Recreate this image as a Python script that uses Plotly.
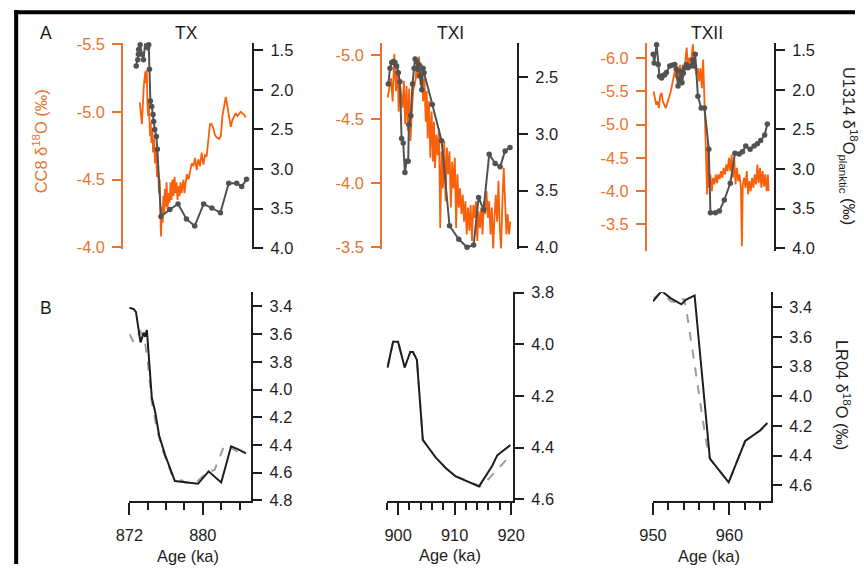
import plotly.graph_objects as go

# Canvas geometry: coordinates below are given in window pixels (864 x 570).
# The page is rendered slightly reduced, so the figure is enlarged by 1/SX, 1/SY
# and positioned inside the default 8 px body margin.
WIN_W, WIN_H = 864, 570
SX, SY = 0.978, 0.970
PAD = 8
W = round(WIN_W / SX) - 2 * PAD
H = round(WIN_H / SY) - 2 * PAD
K = 1 / ((SX + SY) / 2)          # size compensation for fonts

ORANGE = "#FA5F0A"
ORANGE_AX = "#E8732D"
DARK = "#1E1E1E"
GRAY = "#525252"
DASH_GRAY = "#9C9C9C"
FONT = "Liberation Sans, Arial, sans-serif"

# ---------------- data ----------------
# TX : CC8 speleothem d18O (permil)
tx_cc8_age = [873.15, 873.26, 873.37, 873.44, 873.51, 873.58, 873.69, 873.76, 873.83, 873.91,
              873.98, 874.05, 874.12, 874.19, 874.27, 874.34, 874.41, 874.52, 874.59, 874.70,
              874.81, 874.91, 875.02, 875.13, 875.24, 875.31, 875.38, 875.45, 875.56, 875.63,
              875.71, 875.81, 875.88, 875.99, 876.06, 876.17, 876.28, 876.39, 876.50, 876.60,
              876.71, 876.82, 876.93, 877.04, 877.14, 877.25, 877.36, 877.47, 877.58, 877.68,
              877.79, 877.90, 878.01, 878.12, 878.26, 878.44, 878.62, 878.80, 878.98, 879.16,
              879.34, 879.52, 879.70, 879.88, 880.06, 880.24, 880.42, 880.63, 880.78, 880.96,
              881.14, 881.32, 881.53, 881.78, 881.96, 882.14, 882.32, 882.50, 882.68, 882.86,
              883.04, 883.22, 883.40, 883.58, 883.76, 883.94, 884.12, 884.30, 884.48, 884.66]
tx_cc8_d18o = [-5.07, -4.99, -4.91, -4.99, -5.12, -5.19, -5.26, -5.30, -5.21, -5.31,
               -5.07, -4.97, -5.09, -4.92, -4.82, -4.92, -4.77, -4.87, -4.70, -4.80,
               -4.62, -4.72, -4.52, -4.60, -4.40, -4.50, -4.28, -4.08, -4.30, -4.18,
               -4.38, -4.25, -4.43, -4.30, -4.48, -4.28, -4.40, -4.33, -4.48, -4.35,
               -4.50, -4.38, -4.52, -4.40, -4.48, -4.35, -4.45, -4.38, -4.48, -4.40,
               -4.45, -4.50, -4.40, -4.48, -4.54, -4.50, -4.55, -4.62, -4.60, -4.66,
               -4.57, -4.65, -4.60, -4.70, -4.61, -4.68, -4.67, -4.82, -4.91, -4.91,
               -4.88, -4.83, -4.81, -4.80, -4.82, -4.97, -5.04, -5.11, -5.04, -4.97,
               -4.89, -4.94, -4.97, -4.99, -4.97, -4.99, -5.00, -4.99, -4.98, -4.96]
# TX : U1314 planktic d18O (permil)
tx_u1314_age = [872.76, 872.93, 873.00, 873.02, 873.19, 873.37, 873.55, 873.73, 873.91, 874.00,
                874.12, 874.20, 874.30, 874.45, 874.59, 874.66, 874.77, 874.95, 875.06, 875.45,
                876.42, 877.31, 878.22, 879.12, 880.09, 880.99, 881.92, 882.82, 883.69, 884.23,
                884.76]
tx_u1314_d18o = [1.70, 1.62, 1.55, 1.49, 1.43, 1.55, 1.62, 1.41, 1.41, 1.47,
                 1.43, 1.74, 2.14, 2.21, 2.31, 2.40, 2.50, 2.59, 2.75, 3.60,
                 3.51, 3.44, 3.63, 3.72, 3.44, 3.49, 3.55, 3.18, 3.18, 3.22,
                 3.13]
# TX : LR04 benthic stack
tx_lr04_age = [872.00, 872.47, 872.72, 873.22, 873.58, 873.73, 873.91, 874.16, 874.45, 874.81,
               875.24, 875.88, 876.96, 879.48, 880.63, 882.00, 883.08, 883.80, 884.70]
tx_lr04_d18o = [3.41, 3.42, 3.44, 3.66, 3.59, 3.62, 3.57, 3.78, 4.06, 4.16,
                4.33, 4.47, 4.66, 4.68, 4.59, 4.67, 4.41, 4.43, 4.46]
tx_lr04b_age = [872.00, 872.47, 873.19, 873.65, 874.01, 874.45, 874.99, 875.53, 876.60, 878.04,
                879.30, 880.38, 881.28, 882.36, 883.08, 883.80, 884.70]
tx_lr04b_d18o = [3.60, 3.66, 3.58, 3.63, 3.80, 4.09, 4.28, 4.42, 4.61, 4.67,
                 4.67, 4.60, 4.58, 4.40, 4.42, 4.45, 4.46]

# TXI
txi_cc8_age = [898.18, 898.47, 898.76, 899.05, 899.35, 899.64, 899.93, 900.11, 900.34, 900.57,
               900.81, 901.04, 901.27, 901.51, 901.74, 901.98, 902.21, 902.44, 902.68, 902.91,
               903.15, 903.32, 903.50, 903.73, 903.96, 904.20, 904.43, 904.67, 904.90, 905.08,
               905.25, 905.49, 905.72, 905.95, 906.19, 906.36, 906.54, 906.77, 907.01, 907.24,
               907.47, 907.71, 907.94, 908.18, 908.41, 908.64, 908.88, 909.11, 909.35, 909.58,
               909.81, 910.05, 910.28, 910.51, 910.75, 910.98, 911.22, 911.45, 911.68, 911.92,
               912.15, 912.39, 912.62, 912.85, 913.09, 913.32, 913.56, 913.79, 914.02, 914.26,
               914.49, 914.73, 914.96, 915.19, 915.43, 915.66, 915.89, 916.13, 916.36, 916.60,
               916.83, 917.06, 917.30, 917.53, 917.77, 918.00, 918.23, 918.47, 918.70, 918.94,
               919.17, 919.40, 919.64, 919.87]
txi_cc8_d18o = [-4.67, -4.74, -4.82, -4.64, -5.01, -4.72, -4.90, -4.56, -4.77, -4.69,
                -4.59, -4.80, -4.46, -4.76, -4.41, -4.74, -4.33, -4.56, -4.72, -4.77,
                -4.82, -4.95, -4.82, -4.99, -4.77, -4.93, -4.64, -4.82, -4.48, -4.72,
                -4.35, -4.64, -4.20, -4.56, -4.17, -4.48, -4.12, -4.38, -4.22, -4.43,
                -3.65, -4.25, -3.96, -4.33, -3.86, -4.28, -4.07, -4.25, -3.81, -4.17,
                -3.96, -4.20, -3.65, -4.07, -3.81, -3.96, -3.76, -3.91, -3.70, -3.86,
                -3.60, -3.81, -3.63, -3.83, -3.55, -3.83, -3.73, -3.86, -3.55, -3.78,
                -3.65, -3.81, -3.60, -3.86, -3.76, -3.94, -3.73, -3.86, -3.60, -3.81,
                -3.49, -3.73, -3.91, -3.70, -4.02, -3.65, -3.49, -3.86, -4.12, -3.86,
                -3.60, -3.76, -3.60, -3.70]
txi_u1314_age = [898.29, 898.58, 898.88, 899.17, 899.46, 899.75, 900.05, 900.34, 900.63, 900.92,
                 901.22, 901.51, 901.80, 901.92, 902.27, 902.56, 902.85, 903.03, 903.26, 903.50,
                 903.73, 903.91, 904.20, 904.43, 904.61, 906.07, 907.71, 909.11, 910.75, 912.21,
                 913.38, 914.26, 915.13, 916.13, 917.18, 918.06, 918.94, 919.81]
txi_u1314_d18o = [2.56, 2.42, 2.37, 2.36, 2.37, 2.40, 2.46, 2.54, 3.04, 3.08,
                  3.34, 3.24, 3.24, 2.92, 2.84, 2.56, 2.42, 2.34, 2.36, 2.43,
                  2.39, 2.49, 2.61, 2.42, 2.46, 2.74, 3.06, 3.81, 3.93, 4.00,
                  3.98, 3.56, 3.67, 3.18, 3.26, 3.29, 3.15, 3.12]
txi_lr04_age = [898.13, 899.12, 900.00, 901.17, 902.16, 902.63, 903.33, 904.38, 906.72, 908.48,
                910.12, 914.33, 916.67, 917.55, 918.13, 919.88]
txi_lr04_d18o = [4.09, 3.99, 3.99, 4.09, 4.03, 4.03, 4.06, 4.37, 4.44, 4.48,
                 4.51, 4.55, 4.47, 4.43, 4.42, 4.39]
txi_lr04b_age = [898.13, 899.12, 900.00, 901.17, 902.16, 902.63, 903.33, 904.38, 906.72, 908.48,
                 910.12, 914.33, 914.62, 916.08, 917.83, 919.88]
txi_lr04b_d18o = [4.09, 3.99, 3.99, 4.09, 4.03, 4.03, 4.06, 4.37, 4.44, 4.48,
                  4.51, 4.55, 4.55, 4.52, 4.48, 4.43]

# TXII
txii_cc8_age = [950.09, 950.26, 950.43, 950.61, 950.78, 950.95, 951.13, 951.30, 951.47, 951.69,
                951.90, 952.12, 952.34, 952.51, 952.68, 952.86, 953.03, 953.20, 953.38, 953.55,
                953.72, 953.90, 954.07, 954.24, 954.42, 954.59, 954.76, 954.94, 955.11, 955.24,
                955.37, 955.54, 955.71, 955.89, 956.06, 956.23, 956.41, 956.58, 956.75, 956.93,
                957.10, 957.23, 957.36, 957.53, 957.71, 957.88, 958.05, 958.23, 958.40, 958.57,
                958.74, 958.92, 959.09, 959.26, 959.44, 959.61, 959.78, 959.96, 960.13, 960.30,
                960.48, 960.65, 960.82, 961.00, 961.17, 961.34, 961.52, 961.65, 961.77, 961.95,
                962.12, 962.29, 962.47, 962.64, 962.81, 962.99, 963.16, 963.33, 963.51, 963.68,
                963.85, 964.03, 964.20, 964.37, 964.55, 964.72, 964.89, 965.06, 965.15]
txii_cc8_d18o = [-5.50, -5.40, -5.30, -5.35, -5.25, -5.43, -5.48, -5.35, -5.30, -5.25,
                 -5.33, -5.40, -5.50, -5.60, -5.70, -5.80, -5.70, -5.88, -5.70, -5.90,
                 -5.60, -5.90, -5.75, -5.95, -6.16, -5.85, -6.01, -5.90, -6.06, -6.21,
                 -5.90, -5.85, -5.75, -5.85, -5.65, -5.85, -5.55, -5.98, -5.35, -4.65,
                 -3.95, -4.75, -4.05, -4.25, -4.00, -4.20, -4.10, -4.25, -4.12, -4.25,
                 -4.18, -4.30, -4.20, -4.35, -4.25, -4.40, -4.30, -4.50, -4.30, -4.55,
                 -4.20, -4.50, -4.10, -4.35, -4.15, -4.25, -4.05, -3.17, -4.10, -4.20,
                 -4.05, -4.30, -3.95, -4.15, -4.00, -4.20, -4.05, -4.25, -4.10, -4.40,
                 -4.12, -4.35, -4.05, -4.30, -4.07, -4.25, -4.00, -4.25, -4.00]
txii_u1314_age = [950.04, 950.17, 950.48, 950.69, 950.87, 951.13, 951.34, 951.56, 951.77, 952.21,
                  952.51, 952.86, 953.07, 953.29, 953.46, 953.64, 953.81, 953.98, 954.16, 954.37,
                  954.59, 955.02, 955.24, 955.45, 955.54, 955.89, 956.32, 956.75, 957.32, 957.53,
                  958.18, 958.70, 959.35, 960.13, 960.74, 961.30, 961.73, 962.16, 962.73, 963.25,
                  963.68, 964.11, 964.63, 964.98]
txii_u1314_d18o = [1.55, 1.66, 1.43, 1.68, 1.83, 1.85, 1.82, 1.81, 1.78, 1.70,
                   1.69, 1.68, 1.74, 1.95, 1.87, 1.77, 1.91, 1.79, 1.72, 1.68,
                   1.72, 1.70, 1.62, 1.70, 1.55, 2.08, 2.23, 2.23, 2.75, 3.55,
                   3.55, 3.53, 3.39, 3.18, 2.80, 2.81, 2.78, 2.71, 2.75, 2.71,
                   2.68, 2.64, 2.57, 2.43]
txii_lr04_age = [950.00, 951.13, 952.34, 953.72, 954.29, 955.45, 957.45, 959.91, 962.08, 962.94,
                 964.03, 964.98]
txii_lr04_d18o = [3.36, 3.29, 3.34, 3.38, 3.35, 3.32, 4.42, 4.58, 4.30, 4.27,
                  4.23, 4.18]
txii_lr04b_age = [950.09, 951.04, 952.34, 953.64, 953.98, 954.29, 954.94, 955.80, 956.88, 957.45,
                  959.91, 962.08, 962.94, 964.03, 964.98]
txii_lr04b_d18o = [3.34, 3.30, 3.36, 3.37, 3.34, 3.39, 3.61, 3.90, 4.28, 4.42,
                   4.58, 4.30, 4.27, 4.23, 4.18]

# tick values
tx_cc8_ticks = [-5.5, -5.0, -4.5, -4.0]
txi_cc8_ticks = [-5.0, -4.5, -4.0, -3.5]
txii_cc8_ticks = [-6.0, -5.5, -5.0, -4.5, -4.0, -3.5]
u1314_ticks = [1.5, 2.0, 2.5, 3.0, 3.5, 4.0]
txi_u1314_ticks = [2.5, 3.0, 3.5, 4.0]
tx_lr04_ticks = [3.4, 3.6, 3.8, 4.0, 4.2, 4.4, 4.6, 4.8]
txi_lr04_ticks = [3.8, 4.0, 4.2, 4.4, 4.6]
txii_lr04_ticks = [3.4, 3.6, 3.8, 4.0, 4.2, 4.4, 4.6]

TICK_SIZE = round(16 * K, 1)
TITLE_SIZE = round(17 * K, 1)


# ---------------- helpers for placement (window pixels -> paper) ----------------
def fx(px):
    return (px / SX - PAD) / W


def fy(py):
    return 1 - (py / SY - PAD) / H


def xdom(left, right):
    return [fx(left), fx(right)]


def ydom(top, bottom):
    return [fy(bottom), fy(top)]


def fmt(vals):
    return [f"{v:.1f}" for v in vals]


def orange_axis(xid, dom, rng, ticks):
    return dict(anchor=xid, domain=dom, range=rng, side="left",
                showline=True, linecolor=ORANGE_AX, linewidth=2,
                ticks="outside", ticklen=9, tickwidth=2, tickcolor=ORANGE_AX,
                tickvals=ticks, ticktext=fmt(ticks), ticklabelstandoff=4,
                tickfont=dict(color=ORANGE_AX, size=TICK_SIZE, family=FONT),
                showgrid=False, zeroline=False)


def dark_axis(xid, rng, ticks, overlay=None, dom=None):
    d = dict(anchor=xid, range=rng, side="right",
             showline=True, linecolor=DARK, linewidth=2,
             ticks="outside", ticklen=9, tickwidth=2, tickcolor=DARK,
             tickvals=ticks, ticktext=fmt(ticks), ticklabelstandoff=4,
             tickfont=dict(color=DARK, size=TICK_SIZE, family=FONT),
             showgrid=False, zeroline=False)
    if overlay:
        d["overlaying"] = overlay
    if dom:
        d["domain"] = dom
    return d


def hidden_x(yid, dom, rng):
    return dict(anchor=yid, domain=dom, range=rng, visible=False,
                showgrid=False, zeroline=False)


def age_axis(yid, dom, rng, tick0, dtick):
    return dict(anchor=yid, domain=dom, range=rng,
                showline=True, linecolor=DARK, linewidth=2,
                ticks="outside", ticklen=12, tickwidth=2, tickcolor=DARK,
                tickmode="linear", tick0=tick0, dtick=dtick,
                ticklabelstandoff=6,
                minor=dict(ticks="outside", tickmode="linear", tick0=tick0, dtick=2,
                           ticklen=7, tickwidth=2, tickcolor=DARK),
                tickfont=dict(color=DARK, size=TICK_SIZE, family=FONT),
                showgrid=False, zeroline=False)


fig = go.Figure()

cc8_style = dict(mode="lines", line=dict(color=ORANGE, width=1.8), showlegend=False)
u_style = dict(mode="lines+markers", line=dict(color=GRAY, width=2),
               marker=dict(size=5.5, color=GRAY), showlegend=False, cliponaxis=False)
lr_style = dict(mode="lines", line=dict(color=DARK, width=2), showlegend=False)
lrb_style = dict(mode="lines", line=dict(color=DASH_GRAY, width=2, dash="dash"), showlegend=False)

# Panel A
fig.add_trace(go.Scatter(x=tx_cc8_age, y=tx_cc8_d18o, xaxis="x", yaxis="y", **cc8_style))
fig.add_trace(go.Scatter(x=tx_u1314_age, y=tx_u1314_d18o, xaxis="x", yaxis="y2", **u_style))
fig.add_trace(go.Scatter(x=txi_cc8_age, y=txi_cc8_d18o, xaxis="x2", yaxis="y3", **cc8_style))
fig.add_trace(go.Scatter(x=txi_u1314_age, y=txi_u1314_d18o, xaxis="x2", yaxis="y4", **u_style))
fig.add_trace(go.Scatter(x=txii_cc8_age, y=txii_cc8_d18o, xaxis="x3", yaxis="y5", **cc8_style))
fig.add_trace(go.Scatter(x=txii_u1314_age, y=txii_u1314_d18o, xaxis="x3", yaxis="y6", **u_style))

# Panel B
fig.add_trace(go.Scatter(x=tx_lr04b_age, y=tx_lr04b_d18o, xaxis="x4", yaxis="y7", **lrb_style))
fig.add_trace(go.Scatter(x=tx_lr04_age, y=tx_lr04_d18o, xaxis="x4", yaxis="y7", **lr_style))
fig.add_trace(go.Scatter(x=txi_lr04b_age, y=txi_lr04b_d18o, xaxis="x5", yaxis="y8", **lrb_style))
fig.add_trace(go.Scatter(x=txi_lr04_age, y=txi_lr04_d18o, xaxis="x5", yaxis="y8", **lr_style))
fig.add_trace(go.Scatter(x=txii_lr04b_age, y=txii_lr04b_d18o, xaxis="x6", yaxis="y9", **lrb_style))
fig.add_trace(go.Scatter(x=txii_lr04_age, y=txii_lr04_d18o, xaxis="x6", yaxis="y9", **lr_style))

layout = dict(
    width=W, height=H, autosize=False,
    margin=dict(l=0, r=0, t=0, b=0),
    paper_bgcolor="white", plot_bgcolor="rgba(0,0,0,0)",
    font=dict(family=FONT, color=DARK, size=TICK_SIZE),
    showlegend=False,
    # panel A, TX
    xaxis=hidden_x("y", xdom(118, 248), [871.353, 885.376]),
    yaxis=orange_axis("x", ydom(42, 248), [-3.985, -5.507], tx_cc8_ticks),
    yaxis2=dark_axis("x", [4.013, 1.412], u1314_ticks, overlay="y"),
    # panel A, TXI
    xaxis2=hidden_x("y3", xdom(379, 515), [897.193, 921.053]),
    yaxis3=orange_axis("x2", ydom(42, 248), [-3.484, -5.094], txi_cc8_ticks),
    yaxis4=dark_axis("x2", [4.018, 2.2], txi_u1314_ticks, overlay="y3"),
    # panel A, TXII
    xaxis3=hidden_x("y5", xdom(646, 774), [949.221, 965.844]),
    yaxis5=orange_axis("x3", ydom(42, 250), [-3.093, -6.226], txii_cc8_ticks),
    yaxis6=dark_axis("x3", [4.038, 1.412], u1314_ticks, overlay="y5"),
    # panel B
    xaxis4=age_axis("y7", xdom(124, 247), [871.99, 885.27], 872, 8),
    yaxis7=dark_axis("x4", [4.807, 3.299], tx_lr04_ticks, dom=ydom(291, 500)),
    xaxis5=age_axis("y8", xdom(383.6, 511), [897.99, 920.35], 900, 10),
    yaxis8=dark_axis("x5", [4.608, 3.799], txi_lr04_ticks, dom=ydom(291, 500)),
    xaxis6=age_axis("y9", xdom(652, 771), [949.99, 965.45], 950, 10),
    yaxis9=dark_axis("x6", [4.708, 3.299], txii_lr04_ticks, dom=ydom(291, 500)),
)
fig.update_layout(**layout)


def label(text, px, py, size=TICK_SIZE, color=DARK, angle=0):
    fig.add_annotation(text=text, x=fx(px), y=fy(py), xref="paper", yref="paper",
                       showarrow=False, textangle=angle, xanchor="center", yanchor="middle",
                       font=dict(size=size, color=color, family=FONT))


label("A", 40, 32, size=TITLE_SIZE)
label("B", 40, 307, size=TITLE_SIZE)
label("TX", 182, 32, size=TITLE_SIZE)
label("TXI", 448, 32, size=TITLE_SIZE)
label("TXII", 707, 32, size=TITLE_SIZE)
label("CC8 δ<sup>18</sup>O (‰)", 34, 140, color=ORANGE_AX, angle=-90)
label("U1314 δ<sup>18</sup>O<sub>planktic</sub> (‰)", 849, 145, angle=90)
label("LR04 δ<sup>18</sup>O (‰)", 843, 394, angle=90)
label("Age (ka)", 183, 555)
label("Age (ka)", 447, 554)
label("Age (ka)", 709, 555)

# frame around the figure (top and left edges)
fig.add_shape(type="line", xref="paper", yref="paper",
              x0=fx(8), x1=1.0, y0=fy(11), y1=fy(11), line=dict(color="black", width=4))
fig.add_shape(type="line", xref="paper", yref="paper",
              x0=fx(10), x1=fx(10), y0=fy(9), y1=0.0, line=dict(color="black", width=4))

fig.write_html("out.html")
